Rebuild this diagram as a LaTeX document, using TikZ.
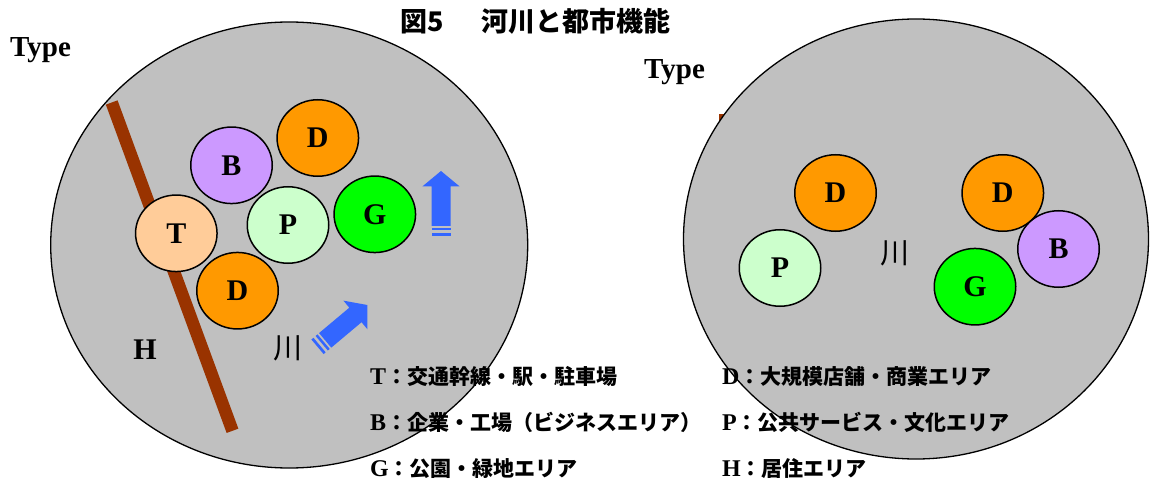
\documentclass[tikz,border=0pt]{standalone}
\usepackage{fontspec}
\setmainfont{Liberation Serif}
\newfontfamily\jp{Noto Sans CJK JP}
\usetikzlibrary{shapes.geometric}
\definecolor{bggray}{HTML}{C0C0C0}
\definecolor{roadbrown}{HTML}{993300}
\definecolor{arrowblue}{HTML}{3366FF}
\definecolor{dorange}{HTML}{FF9900}
\definecolor{bpurple}{HTML}{CC99FF}
\definecolor{tpeach}{HTML}{FFCC99}
\definecolor{pmint}{HTML}{CCFFCC}
\definecolor{ggreen}{HTML}{00FF00}
\tikzset{
  bigarea/.style={ellipse, draw=black, line width=1.3pt, fill=bggray, inner sep=0pt},
  area/.style={ellipse, draw=black, line width=1.5pt, inner sep=0pt,
    minimum width=81.5pt, minimum height=76.5pt,
    font=\bfseries\fontsize{30}{32}\selectfont},
  road/.style={draw=roadbrown, line width=12.5pt},
  typelabel/.style={anchor=base west, inner sep=0pt, font=\bfseries\fontsize{29}{32}\selectfont},
  serifletter/.style={inner sep=0pt, font=\bfseries\fontsize{30}{32}\selectfont},
  kawa/.style={inner sep=0pt, font=\jp\fontsize{29}{31}\selectfont},
  leg/.style={anchor=base west, inner sep=0pt, font=\bfseries\fontsize{24}{27}\selectfont},
  blueflow/.pic={
    \fill[arrowblue] (0,0) -- (-15.5,18.7) -- (-15.5,9.5) -- (-55,9.5)
      -- (-55,-9.5) -- (-15.5,-9.5) -- (-15.5,-18.7) -- cycle;
    \fill[arrowblue] (-57,-9.5) rectangle (-59.5,9.5);
    \fill[arrowblue] (-62.3,-9.5) rectangle (-65,9.5);
  }
}
\newcommand{\jl}[1]{{\jp\bfseries\fontsize{21}{24}\selectfont #1}}
\begin{document}
\begin{tikzpicture}[x=1pt,y=-1pt]
\useasboundingbox (0,0) rectangle (1151,481);

% title
\node[anchor=base west, inner sep=0pt, font=\jp\bfseries\fontsize{27}{30}\selectfont] (title) at (400,31.5) {図5\hspace{38pt}河川と都市機能};

% left panel
\node[typelabel] (typeL) at (10,57) {Type};
\node[bigarea, minimum width=477pt, minimum height=446pt] (cityL) at (289.2,245) {};
\coordinate (roadLa) at (111.7,102.5);
\coordinate (roadLb) at (232.5,430.8);
\draw[road] (roadLa) -- (roadLb);
\node[area, fill=bpurple] (bL) at (231.5,165.3) {B};
\node[area, fill=dorange] (d1L) at (317.8,138) {D};
\node[area, fill=tpeach] (tL) at (176.3,233.3) {T};
\node[area, fill=pmint] (pL) at (288,225) {P};
\node[area, fill=ggreen] (gL) at (374.8,214.3) {G};
\node[area, fill=dorange] (d2L) at (237.5,290.7) {D};
\pic[rotate=90] at (441,171) {blueflow};
\pic[rotate=40] at (367.3,305) {blueflow};
\node[serifletter] (hL) at (145,349.3) {H};
\node[kawa] (kawaL) at (287.5,348.3) {川};

% right panel
\node[typelabel] (typeR) at (644,78.3) {Type};
\coordinate (roadRa) at (722.5,114);
\coordinate (roadRb) at (722.5,140);
\draw[roadbrown, line width=8pt] (roadRa) -- (roadRb);
\node[bigarea, minimum width=465pt, minimum height=440pt] (cityR) at (916,239) {};
\node[area, fill=dorange] (d1R) at (835.5,193) {D};
\node[area, fill=dorange] (d2R) at (1002.8,193) {D};
\node[area, fill=pmint] (pR) at (780,268) {P};
\node[area, fill=ggreen] (gR) at (975,286.7) {G};
\node[area, fill=bpurple] (bR) at (1058.5,249) {B};
\node[kawa] (kawaR) at (894.5,253.3) {川};

% legend
\node[leg] (legT) at (370,384) {T\jl{：交通幹線・駅・駐車場}};
\node[leg] (legB) at (370,430) {B\jl{：企業・工場（ビジネスエリア）}};
\node[leg] (legG) at (370,476) {G\jl{：公園・緑地エリア}};
\node[leg] (legD) at (722,384) {D\jl{：大規模店舗・商業エリア}};
\node[leg] (legP) at (722,430) {P\jl{：公共サービス・文化エリア}};
\node[leg] (legH) at (722,476) {H\jl{：居住エリア}};
\end{tikzpicture}
\end{document}
